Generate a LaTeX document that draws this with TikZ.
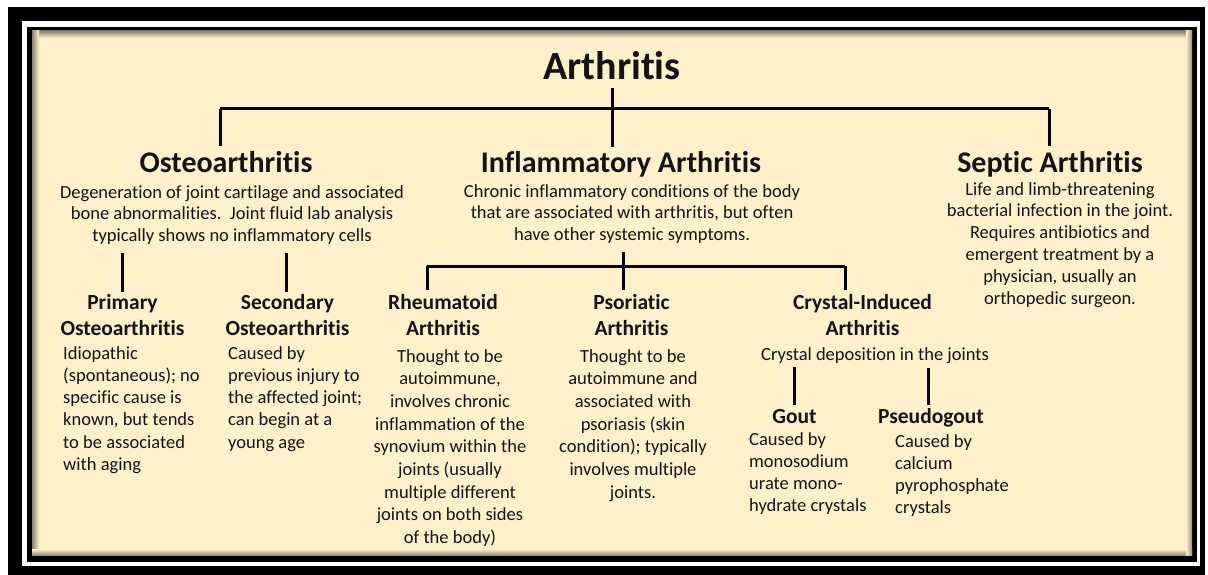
\documentclass[tikz,border=0pt]{standalone}
\usepackage{fontspec}
\setmainfont{Carlito}[Ligatures=NoCommon]
\definecolor{beige}{RGB}{254,240,203}
\definecolor{ink}{RGB}{20,20,20}
\tikzset{
  conn/.style={draw=black,line width=3pt},
  titletext/.style={inner sep=0pt,anchor=base,text=ink,font={\bfseries\fontsize{40}{44}\selectfont}},
  headtext/.style={inner sep=0pt,anchor=base,text=ink,font={\bfseries\fontsize{30}{34}\selectfont}},
  desctext/.style={inner sep=0pt,anchor=base,align=center,text=ink,font={\fontsize{18.5}{21.8}\selectfont}},
  subhead/.style={inner sep=0pt,anchor=base,align=center,text=ink,font={\bfseries\fontsize{21.5}{26}\selectfont}},
  subdesc/.style={inner sep=0pt,anchor=base,align=center,text=ink,font={\fontsize{18.5}{22.7}\selectfont}},
  subdescl/.style={inner sep=0pt,anchor=base west,align=left,text=ink,font={\fontsize{18.5}{22.3}\selectfont}}
}
\begin{document}
\begin{tikzpicture}[x=1pt,y=-1pt]
\useasboundingbox (0,0) rectangle (1208,575);
\fill[white] (0,0) rectangle (1208,575);
% frame
\fill[black] (8,7) rectangle (1205,575);
\fill[white] (22,21) rectangle (1200,566);
\fill[black] (27,27) rectangle (1197,562);
\fill[beige] (32,31) rectangle (1192,555);
\shade[top color=beige!55!black,bottom color=beige] (32,31) rectangle (1192,38);
\shade[left color=beige!55!black,right color=beige] (32,31) rectangle (39,555);
\shade[top color=beige,bottom color=beige!60!black] (32,549) rectangle (1192,555);
\shade[left color=beige,right color=beige!60!black] (1186,31) rectangle (1192,555);

% title
\node[titletext] (root) at (612,80) {Arthritis};
\coordinate (barL) at (220,109);
\coordinate (barM) at (612,109);
\coordinate (barR) at (1049,109);
\coordinate (oaTop) at (220,146);
\coordinate (iaTop) at (612,147);
\coordinate (saTop) at (1049,146);
\draw[conn] ([yshift=-8pt]root.base) -- (barM);
\draw[conn] (barL) -- (barR);
\draw[conn] (barL) -- (oaTop);
\draw[conn] (barM) -- (iaTop);
\draw[conn] (barR) -- (saTop);

% level 1 (multi-line nodes: base = last line's baseline)
\node[headtext] (oa) at (226,172) {Osteoarthritis};
\node[headtext] (ia) at (621,172) {Inflammatory Arthritis};
\node[headtext] (sa) at (1050,172) {Septic Arthritis};

\node[desctext] (oad) at (232,241.6) {Degeneration of joint cartilage and associated\\bone abnormalities.\ \ Joint fluid lab analysis\\typically shows no inflammatory cells};
\node[desctext] (iad) at (632,240.6) {Chronic inflammatory conditions of the body\\that are associated with arthritis, but often\\have other systemic symptoms.};
\node[desctext] (sad) at (1060,304) {Life and limb-threatening\\bacterial infection in the joint.\\Requires antibiotics and\\emergent treatment by a\\physician, usually an\\orthopedic surgeon.};

% osteo children
\coordinate (poTop) at (122,253);
\coordinate (poBot) at (122,292);
\coordinate (soTop) at (286,253);
\coordinate (soBot) at (286,292);
\draw[conn] (poTop) -- (poBot);
\draw[conn] (soTop) -- (soBot);

\node[subhead] (po) at (122.5,335) {Primary\\Osteoarthritis};
\node[subdescl] (pod) at (63,470.5) {Idiopathic\\(spontaneous); no\\specific cause is\\known, but tends\\to be associated\\with aging};
\node[subhead] (so) at (287.5,335) {Secondary\\Osteoarthritis};
\node[subdescl] (sod) at (228,448.2) {Caused by\\previous injury to\\the affected joint;\\can begin at a\\young age};

% inflammatory children
\coordinate (iaStem) at (623,252);
\coordinate (iaBarL) at (427,266);
\coordinate (iaBarR) at (845,266);
\coordinate (raTop) at (427,290);
\coordinate (psTop) at (623,290);
\coordinate (crTop) at (845,290);
\draw[conn] (iaStem) -- (psTop);
\draw[conn] (iaBarL) -- (iaBarR);
\draw[conn] (iaBarL) -- (raTop);
\draw[conn] (iaBarR) -- (crTop);

\node[subhead] (ra) at (443,335) {Rheumatoid\\Arthritis};
\node[subdesc] (rad) at (450,543.6) {Thought to be\\autoimmune,\\involves chronic\\inflammation of the\\synovium within the\\joints (usually\\multiple different\\joints on both sides\\of the body)};
\node[subhead] (ps) at (631.5,335) {Psoriatic\\Arthritis};
\node[subdesc] (psd) at (633,498.2) {Thought to be\\autoimmune and\\associated with\\psoriasis (skin\\condition); typically\\involves multiple\\joints.};
\node[subhead] (cr) at (862.5,335) {Crystal-Induced\\Arthritis};
\node[desctext] (crd) at (875,360) {Crystal deposition in the joints};

% crystal children
\coordinate (goTop) at (794,367);
\coordinate (goBot) at (794,405);
\coordinate (pgTop) at (928,368);
\coordinate (pgBot) at (928,405);
\draw[conn] (goTop) -- (goBot);
\draw[conn] (pgTop) -- (pgBot);

\node[subhead] (go) at (794.5,423) {Gout};
\node[subdescl] (god) at (749,511.9) {Caused by\\monosodium\\urate mono-\\hydrate crystals};
\node[subhead] (pg) at (931,423) {Pseudogout};
\node[subdescl] (pgd) at (895,513.9) {Caused by\\calcium\\pyrophosphate\\crystals};
\end{tikzpicture}
\end{document}
